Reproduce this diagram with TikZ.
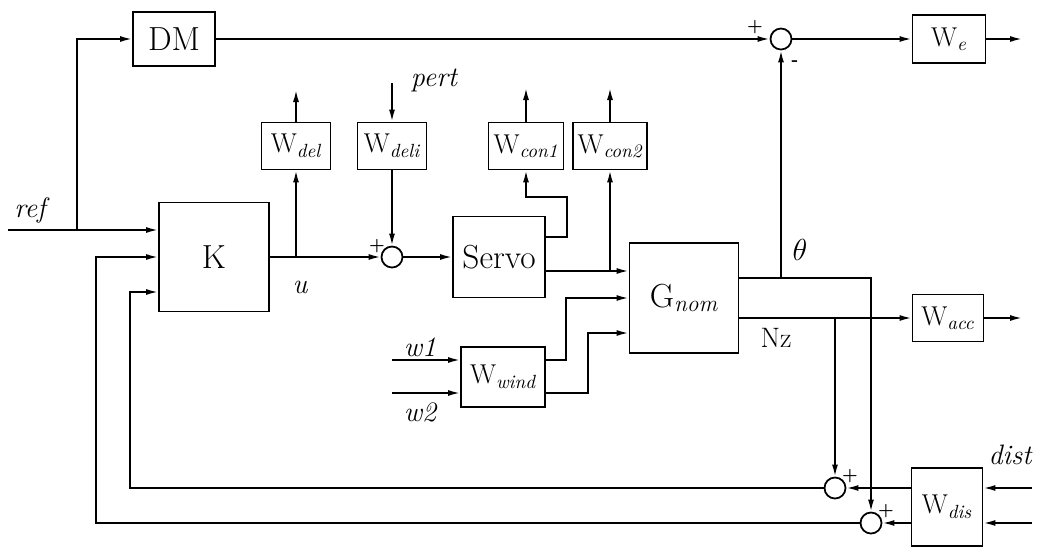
\documentclass[tikz,border=0pt]{standalone}
\usepackage{amsmath}
\usetikzlibrary{arrows.meta,positioning}

\begin{document}
\begin{tikzpicture}[
  x=0.2mm, y=-0.2mm,
  line width=1pt,
  block/.style={draw, inner sep=0pt, font=\fontsize{15.5}{18}\selectfont},
  bigblock/.style={block, font=\fontsize{19}{22}\selectfont},
  sumnode/.style={circle, draw, minimum size=4.2mm, inner sep=0pt},
  lbl/.style={font=\fontsize{16}{19}\selectfont\itshape},
  sgn/.style={font=\normalsize\bfseries, inner sep=0pt},
  sig/.style={-{Latex[length=2.4mm,width=1.2mm]}},
]
  \useasboundingbox (0,0) rectangle (1043,550);

  % Blocks
  \node[bigblock, minimum width=16.4mm, minimum height=10.8mm] (DM) at (174,39) {DM};
  \node[block, minimum width=14.6mm, minimum height=9.6mm] (We) at (949,39) {W\textsubscript{\itshape e}};
  \node[block, minimum width=13.8mm, minimum height=9.4mm] (Wdel) at (296,146) {W\textsubscript{\itshape del}};
  \node[block, minimum width=13.8mm, minimum height=9.4mm] (Wdeli) at (392,146) {W\textsubscript{\itshape deli}};
  \node[block, minimum width=15mm, minimum height=9.4mm] (Wcon1) at (526,146) {W\textsubscript{\itshape con1}};
  \node[block, minimum width=14.8mm, minimum height=9.4mm] (Wcon2) at (610,146) {W\textsubscript{\itshape con2}};
  \node[bigblock, minimum width=22mm, minimum height=21.8mm] (K) at (214,257) {K};
  \node[bigblock, minimum width=18.4mm, minimum height=16.2mm] (Servo) at (499,257) {Servo};
  \node[bigblock, minimum width=21.8mm, minimum height=22mm] (Gnom) at (684,298) {G\textsubscript{\itshape nom}};
  \node[block, minimum width=16.8mm, minimum height=12mm] (Wwind) at (503,377) {W\textsubscript{\itshape wind}};
  \node[block, minimum width=14.2mm, minimum height=9.4mm] (Wacc) at (948,318) {W\textsubscript{\itshape acc}};
  \node[block, minimum width=14.2mm, minimum height=15.6mm] (Wdis) at (947,507) {W\textsubscript{\itshape dis}};

  % Summing junctions
  \node[sumnode] (S1) at (781,39) {};
  \node[sumnode] (S2) at (392,257) {};
  \node[sumnode] (S3) at (835,488) {};
  \node[sumnode] (S4) at (871,523) {};

  % Free ends
  \coordinate (refin) at (8,230);
  \coordinate (refup) at (77,230);
  \coordinate (uup) at (296,257);
  \coordinate (delout) at (296,90);
  \coordinate (pertin) at (392,83);
  \coordinate (con1out) at (526,88);
  \coordinate (con2out) at (610,88);
  \coordinate (eout) at (1022,39);
  \coordinate (accout) at (1022,318);
  \coordinate (w1in) at (392,360);
  \coordinate (w2in) at (392,393);
  \coordinate (dist1) at (1032,488);
  \coordinate (dist2) at (1032,523);
  \coordinate (sv1) at ([yshift=4mm]Servo.east);
  \coordinate (sv2) at ([yshift=-2.8mm]Servo.east);
  \coordinate (thout) at ([yshift=4mm]Gnom.east);
  \coordinate (nzout) at ([yshift=-4mm]Gnom.east);

  % Reference path
  \draw[sig] (refin) -- (refin -| K.west);
  \draw[sig] (refup) |- (DM.west);
  \draw[sig] (DM) -- (S1);
  \draw[sig] (S1) -- (We);
  \draw[sig] (We) -- (eout);

  % Controller and actuator
  \draw[sig] (K) -- (S2);
  \draw[sig] (uup) -- (Wdel);
  \draw[sig] (Wdel) -- (delout);
  \draw[sig] (pertin) -- (Wdeli);
  \draw[sig] (Wdeli) -- (S2);
  \draw[sig] (S2) -- (Servo);
  \draw[sig] (sv1) -| (567,197) -| (Wcon1.south);
  \draw[sig] (Wcon1) -- (con1out);
  \draw[sig] (sv2) -- (sv2 -| Gnom.west);
  \draw[sig] (sv2 -| Wcon2.south) -- (Wcon2.south);
  \draw[sig] (Wcon2) -- (con2out);

  % Wind inputs
  \draw[sig] (w1in) -- (w1in -| Wwind.west);
  \draw[sig] (w2in) -- (w2in -| Wwind.west);
  \draw[sig] (w1in -| Wwind.east) -- (566,360) |- (Gnom.west);
  \draw[sig] (w2in -| Wwind.east) -- (588,393) |- ([yshift=-7mm]Gnom.west);

  % Plant outputs
  \draw[sig] (thout) -| (S4.north);
  \draw[sig] (thout -| S1.south) -- (S1.south);
  \draw[sig] (nzout) -- (nzout -| Wacc.west);
  \draw[sig] (Wacc) -- (accout);
  \draw[sig] (nzout -| S3.north) -- (S3.north);

  % Disturbances and feedback
  \draw[sig] (dist1) -- (dist1 -| Wdis.east);
  \draw[sig] (dist2) -- (dist2 -| Wdis.east);
  \draw[sig] (dist1 -| Wdis.west) -- (S3.east);
  \draw[sig] (dist2 -| Wdis.west) -- (S4.east);
  \draw[sig] (S3.west) -- (130,488) |- ([yshift=-7mm]K.west);
  \draw[sig] (S4.west) -- (96,523) |- (K.west);

  % Labels
  \node[lbl] (reflbl) at (30,210) {ref};
  \node[lbl] (ulbl) at (300,287) {u};
  \node[lbl] (pertlbl) at (434,80) {pert};
  \node[font=\fontsize{16}{19}\selectfont] (thlbl) at (800,250) {$\theta$};
  \node[font=\fontsize{16}{19}\selectfont] (nzlbl) at (776,338) {Nz};
  \node[lbl] (w1lbl) at (420,347) {w1};
  \node[lbl] (w2lbl) at (420,412) {w2};
  \node[lbl] (distlbl) at (1010,455) {dist};
  \node[sgn] (p1) at (755,27) {+};
  \node[sgn] (m1) at (795,63) {-};
  \node[sgn] (p2) at (377,246) {+};
  \node[sgn] (p3) at (850,476) {+};
  \node[sgn] (p4) at (886,511) {+};
\end{tikzpicture}
\end{document}
